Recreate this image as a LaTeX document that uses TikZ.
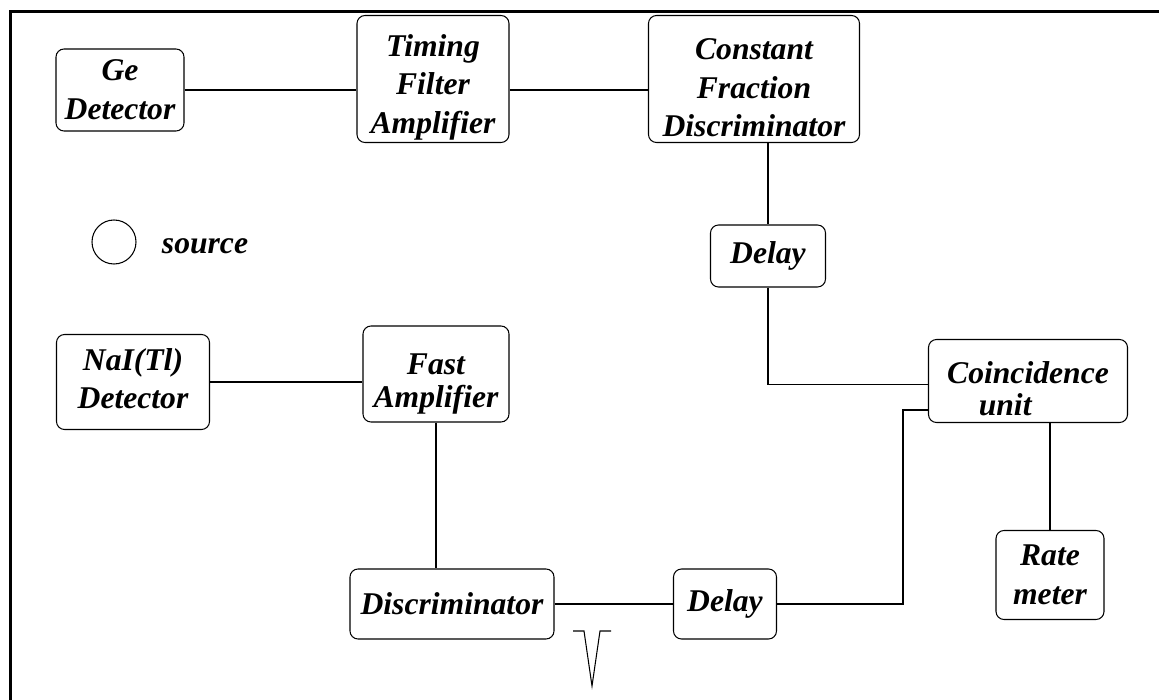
\documentclass[tikz,border=0pt]{standalone}
\usepackage{fontspec}
\setmainfont{Liberation Serif}
\begin{document}
\begin{tikzpicture}[x=0.2mm, y=-0.2mm,
                    line width=0.6pt,
                    font=\fontsize{18}{22}\selectfont\bfseries\itshape]
    \tikzstyle{unit}=[draw,rounded corners=1.6mm,align=center,inner sep=1pt]
    \tikzstyle{frame}=[line width=1.8pt]
    \tikzstyle{src}=[draw,circle,minimum size=8.8mm,inner sep=0pt]

    \useasboundingbox (0,0) rectangle (1159,700);
    \draw[frame] (10.5,700) -- (10.5,11.5) -- (1159,11.5);

    % Ge branch
    \node[unit,minimum width=25.6mm,minimum height=16.4mm] (ge) at (120,90) {Ge\\Detector};
    \node[unit,minimum width=30.4mm,minimum height=25.4mm] (tfa) at (433,79) {\rule{0pt}{22pt}Timing\\Filter\\Amplifier};
    \node[unit,minimum width=42.2mm,minimum height=25.4mm] (cfd) at (754,79) {\rule{0pt}{22pt}Constant\\Fraction\\Discriminator};
    \node[unit,minimum width=23mm,minimum height=12.4mm] (delayA) at (768,256) {Delay};

    % source
    \node[src] (source) at (114,242) {};
    \node (sourcelabel) at (205,246) {source};

    % NaI branch
    \node[unit,minimum width=30.6mm,minimum height=19mm] (nai) at (133,382) {NaI(Tl)\\Detector\rule[-4pt]{0pt}{0pt}};
    \node[unit,minimum width=29.2mm,minimum height=19.2mm] (fast) at (436,374) {\rule{0pt}{23pt}Fast\\[-3pt]Amplifier};
    \node[unit,minimum width=40.8mm,minimum height=14mm] (disc) at (452,604) {Discriminator};
    \node[unit,minimum width=20.6mm,minimum height=14mm] (delayB) at (725,604) {Delay};

    % coincidence
    \node[unit,minimum width=39.8mm,minimum height=16.6mm] (coinc) at (1028,381) {\rule{0pt}{21.5pt}Coincidence\\[-4pt]unit\hspace*{26pt}};
    \node[unit,minimum width=21.6mm,minimum height=17.8mm] (rate) at (1050,575) {Rate\\meter};
    \coordinate (in1) at ([yshift=-0.7mm]coinc.west);
    \coordinate (in2) at ([yshift=2.6mm]coinc.south west);

    \draw (ge.east) -- (ge.east -| tfa.west);
    \draw (ge.east -| tfa.east) -- (ge.east -| cfd.west);
    \draw (cfd.south -| delayA.north) -- (delayA.north);
    \draw (delayA.south) |- (in1);
    \draw (nai.east) -- (nai.east -| fast.west);
    \draw (fast.south) -- (fast.south |- disc.north);
    \draw (disc.east) -- (disc.east -| delayB.west);
    \draw (delayB.east) -| ([xshift=-5mm]in2) -- (in2);
    \draw (coinc.south -| rate.north) -- (rate.north);

    % pulse
    \draw (573,631) -- (584,631) -- (592,686) -- (600,631) -- (611,631);
\end{tikzpicture}
\end{document}
